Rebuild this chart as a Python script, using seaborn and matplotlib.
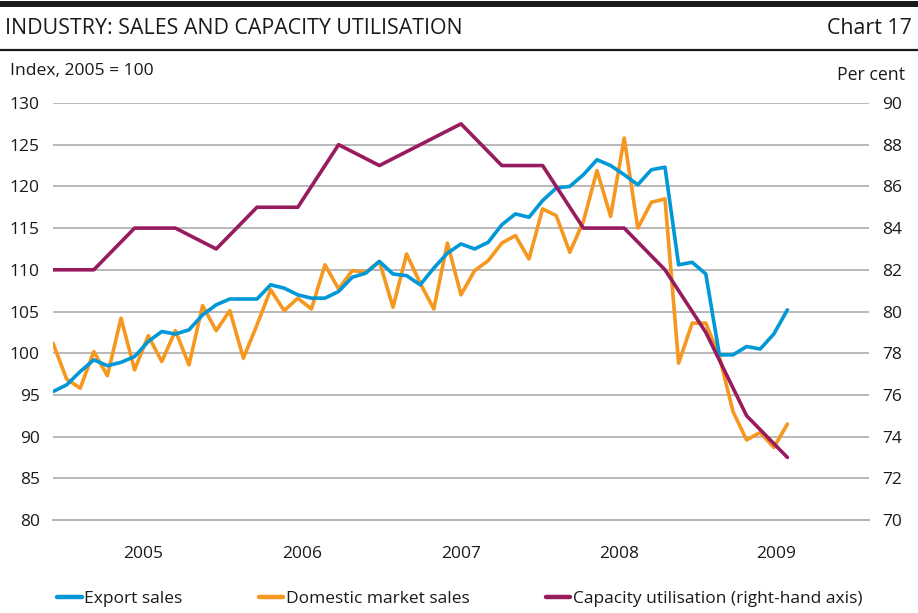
import numpy as np
import pandas as pd
import matplotlib
matplotlib.use("Agg")
import matplotlib.pyplot as plt
import seaborn as sns
from matplotlib.patches import Rectangle
from matplotlib.lines import Line2D

# ---------------- data (monthly, Jan 2005 - Jul 2009) ----------------
export_sales = [95.4, 96.2, 97.8, 99.2, 98.5, 98.9, 99.6, 101.4, 102.6, 102.3,
                102.8, 104.6, 105.8, 106.5, 106.5, 106.5, 108.2, 107.8, 107.0, 106.6,
                106.6, 107.4, 109.1, 109.6, 111.0, 109.5, 109.3, 108.2, 110.2, 112.0,
                113.1, 112.5, 113.3, 115.4, 116.7, 116.3, 118.3, 119.8, 120.0, 121.4,
                123.2, 122.5, 121.4, 120.2, 122.0, 122.3, 110.6, 110.9, 109.5, 99.8,
                99.8, 100.8, 100.5, 102.3, 105.2]
domestic_sales = [101.2, 96.9, 95.8, 100.2, 97.3, 104.2, 98.0, 102.1, 99.0, 102.7,
                  98.6, 105.7, 102.7, 105.1, 99.4, 103.4, 107.6, 105.1, 106.6, 105.3,
                  110.6, 107.7, 109.9, 109.7, 111.0, 105.5, 111.9, 108.4, 105.3, 113.2,
                  107.0, 109.9, 111.1, 113.2, 114.1, 111.3, 117.3, 116.5, 112.1, 115.8,
                  121.9, 116.4, 125.8, 115.0, 118.1, 118.5, 98.8, 103.6, 103.6, 99.6,
                  93.0, 89.6, 90.5, 88.7, 91.5]
# quarterly (Q1 2005 - Q3 2009), plotted at first month of each quarter
capacity_util = [82, 82, 84, 84, 83, 85, 85, 88, 87, 88, 89, 87, 87, 84, 84, 82, 79, 75, 73]

years = ["2005", "2006", "2007", "2008", "2009"]
title = "INDUSTRY: SALES AND CAPACITY UTILISATION"
chart_no = "Chart 17"
left_unit = "Index, 2005 = 100"
right_unit = "Per cent"
labels = ["Export sales", "Domestic market sales", "Capacity utilisation (right-hand axis)"]

months = np.arange(len(export_sales))
quarters = np.arange(len(capacity_util)) * 3
df_m = pd.DataFrame({"month": months, "export": export_sales, "domestic": domestic_sales})
df_q = pd.DataFrame({"month": quarters, "capacity": capacity_util})

# ---------------- style ----------------
sns.set_theme(style="white")
plt.rcParams["font.family"] = ["Open Sans", "DejaVu Sans"]
FS = 12.5
GRID = "#b3b3b3"
C_BLUE = "#0098d6"
C_ORANGE = "#f6971f"
C_PURPLE = "#981b5e"
LW = 2.6

W, H = 918, 613
fig = plt.figure(figsize=(W / 100, H / 100), dpi=100)
ax = fig.add_axes([53 / W, 1 - 520 / H, (869 - 53) / W, (520 - 103) / H])
ax2 = ax.twinx()

sns.lineplot(data=df_m, x="month", y="export", ax=ax, color=C_BLUE, lw=LW, zorder=4)
sns.lineplot(data=df_m, x="month", y="domestic", ax=ax, color=C_ORANGE, lw=LW, zorder=3)
sns.lineplot(data=df_q, x="month", y="capacity", ax=ax2, color=C_PURPLE, lw=LW, zorder=5)

ax.set_xlim(0, 60)
ax.set_ylim(80, 130)
ax2.set_ylim(70, 90)
ax.set_yticks(np.arange(80, 131, 5))
ax2.set_yticks(np.arange(70, 91, 2))
ax.yaxis.grid(True, color=GRID, lw=1.3)
ax.set_axisbelow(True)

for a in (ax, ax2):
    a.set_xlabel("")
    a.set_ylabel("")
    for s in ("left", "right", "top"):
        a.spines[s].set_visible(False)
    a.spines["bottom"].set_color(GRID)
    a.spines["bottom"].set_linewidth(1.3)

ax.tick_params(axis="y", length=0, pad=9.5, labelsize=FS, labelcolor="#1a1a1a")
ax2.tick_params(axis="y", length=0, pad=9.5, labelsize=FS, labelcolor="#1a1a1a")

# year boundaries as inward ticks, year labels between
ax.set_xticks(np.arange(0, 61, 12))
ax.tick_params(axis="x", which="major", direction="in", length=6, width=1.3,
               color=GRID, labelbottom=False)
ax.set_xticks([6.6, 18.3, 30.0, 41.6, 53.2], minor=True)
ax.set_xticklabels(years, minor=True)
ax.tick_params(axis="x", which="minor", length=0, pad=19, labelsize=FS, labelcolor="#1a1a1a")
ax2.set_xticks([])

# header
fig.add_artist(Rectangle((0, 1 - 7 / H), 1, 6 / H, transform=fig.transFigure,
                         color="#1a1a1a", lw=0))
fig.add_artist(Line2D([0, 1], [1 - 49.5 / H] * 2, transform=fig.transFigure,
                      color="#1a1a1a", lw=1.6))
fig.text(5 / W, 1 - 29 / H, title, fontsize=15.4, ha="left", va="center", color="#1a1a1a")
fig.text(912 / W, 1 - 29 / H, chart_no, fontsize=15.4, ha="right", va="center", color="#1a1a1a")
fig.text(10 / W, 1 - 71 / H, left_unit, fontsize=12.6, ha="left", va="center", color="#1a1a1a")
fig.text(905 / W, 1 - 75 / H, right_unit, fontsize=12.8, ha="right", va="center", color="#1a1a1a")

# legend
handles = [Line2D([], [], color=c, lw=3.2) for c in (C_BLUE, C_ORANGE, C_PURPLE)]
fig.legend(handles, labels, loc="center", bbox_to_anchor=(460 / W, 1 - 598.5 / H),
           ncol=3, frameon=False, fontsize=FS, handlelength=1.4, handletextpad=0.15,
           columnspacing=4.4, labelcolor="#1a1a1a")

fig.savefig("out.png", dpi=100)
